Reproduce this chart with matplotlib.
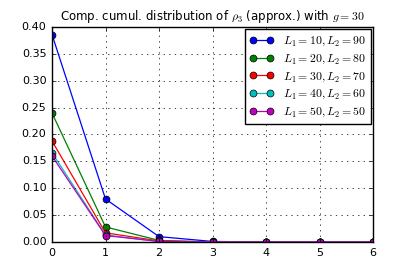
import matplotlib
matplotlib.use("Agg")
import matplotlib.pyplot as plt

plt.style.use("classic")

x = [0, 1, 2, 3, 4, 5, 6]
labels = [
    r"$L_1=10, L_2=90$",
    r"$L_1=20, L_2=80$",
    r"$L_1=30, L_2=70$",
    r"$L_1=40, L_2=60$",
    r"$L_1=50, L_2=50$",
]
colors = ["b", "g", "r", "c", "m"]
s_10_90 = [0.386, 0.080, 0.010, 0.001, 0.0, 0.0, 0.0]
s_20_80 = [0.240, 0.028, 0.003, 0.0, 0.0, 0.0, 0.0]
s_30_70 = [0.188, 0.017, 0.002, 0.0, 0.0, 0.0, 0.0]
s_40_60 = [0.166, 0.013, 0.001, 0.0, 0.0, 0.0, 0.0]
s_50_50 = [0.160, 0.012, 0.001, 0.0, 0.0, 0.0, 0.0]
series = [s_10_90, s_20_80, s_30_70, s_40_60, s_50_50]

fig = plt.figure(figsize=(4.15, 2.77), dpi=100)
ax = fig.add_axes([52 / 415, 35 / 277, 321 / 415, 215 / 277])

for vals, lab, c in zip(series, labels, colors):
    ax.plot(x, vals, "-o", color=c, label=lab, lw=0.9, ms=5, mew=0.5)

ax.set_xlim(0, 6)
ax.set_ylim(0, 0.40)
ax.set_yticks([0.0, 0.05, 0.10, 0.15, 0.20, 0.25, 0.30, 0.35, 0.40])
ax.tick_params(labelsize=8, length=3)
ax.grid(True)
ax.set_title(r"Comp. cumul. distribution of $\rho_3$ (approx.) with $g=30$", fontsize=8.5)
ax.legend(loc="upper right", fontsize=8.5, numpoints=2, borderaxespad=0.2,
          labelspacing=0.3, handlelength=2.0)

fig.savefig("out.png", dpi=100)
